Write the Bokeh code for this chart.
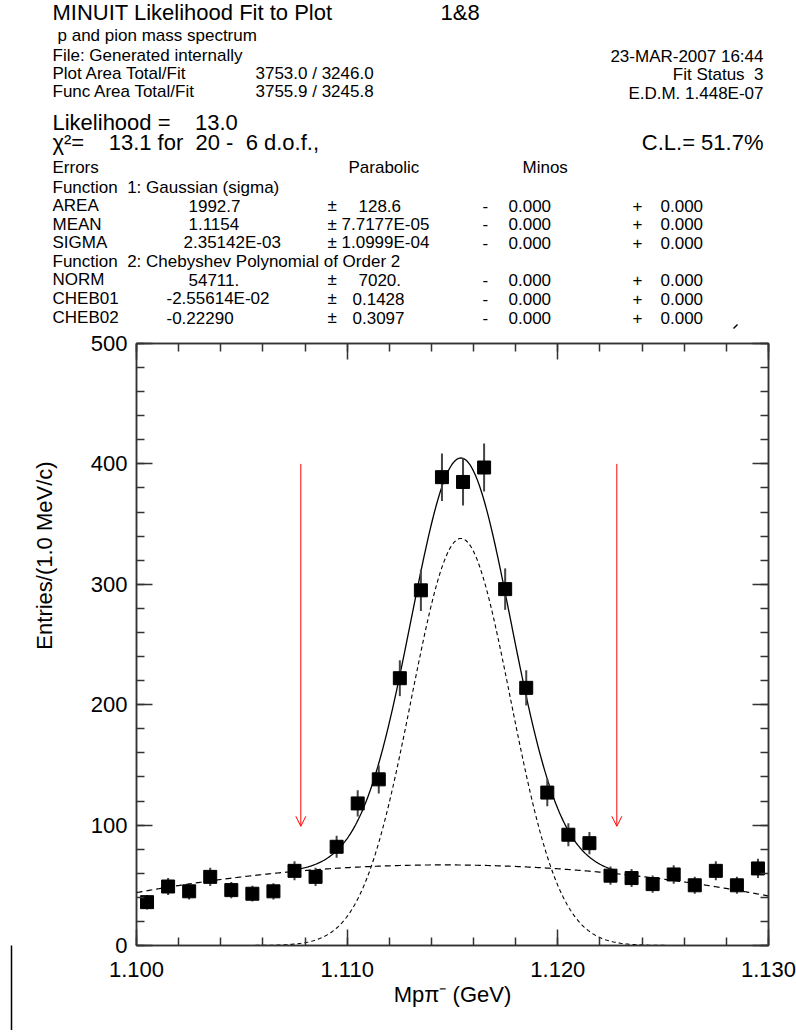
import numpy as np
from bokeh.plotting import figure
from bokeh.layouts import column, row
from bokeh.models import (LinearAxis, FixedTicker, NumeralTickFormatter, Range1d,
                          Arrow, OpenHead, ColumnDataSource, CustomJSTickFormatter)
from bokeh.core.properties import value
from bokeh.embed import file_html
from bokeh.resources import INLINE

# ---------------- data ----------------
mass_gev = [1.1005, 1.1015, 1.1025, 1.1035, 1.1045, 1.1055, 1.1065, 1.1075, 1.1085, 1.1095,
            1.1105, 1.1115, 1.1125, 1.1135, 1.1145, 1.1155, 1.1165, 1.1175, 1.1185, 1.1195,
            1.1205, 1.1215, 1.1225, 1.1235, 1.1245, 1.1255, 1.1265, 1.1275, 1.1285, 1.1295]
entries = [36, 49, 45, 57, 46, 43, 45, 62, 57, 82,
           118, 138, 222, 295, 389, 385, 397, 296, 214, 127,
           92, 85, 58, 56, 51, 59, 50, 62, 50, 64]
bin_width = 0.001
x_limits = [1.100, 1.130]
y_limits = [0, 500]

# fit parameters (as printed on the chart)
gauss_area = 1992.7
gauss_mean = 1.1154
gauss_sigma = 2.35142e-03
cheb_norm = 54711.0
cheb01 = -2.55614e-02
cheb02 = -0.22290
fit_range = [1.1078, 1.1228]
arrow_top = 400
arrow_tip = 99

x_major = [1.100, 1.110, 1.120, 1.130]
y_major = [0, 100, 200, 300, 400, 500]

param_names = ["AREA", "MEAN", "SIGMA", "NORM", "CHEB01", "CHEB02"]
param_values = ["1992.7", "1.1154", "2.35142E-03", "54711.", "-2.55614E-02", "-0.22290"]
param_errors = ["128.6", "7.7177E-05", "1.0999E-04", "7020.", "0.1428", "0.3097"]
minos_minus = ["0.000"] * 6
minos_plus = ["0.000"] * 6

# ---------------- layout constants (page pixels) ----------------
FONT = "Liberation Sans"
PAGE_W, PAGE_H = 796, 1030
HEAD_H = 330
LEFT_W = 60
FRAME_L, FRAME_R, FRAME_T, FRAME_B = 136, 768, 343, 945

def blank_fig(w, h, xr, yr):
    f = figure(width=w, height=h, x_range=Range1d(*xr), y_range=Range1d(*yr),
               output_backend="svg", toolbar_location=None,
               x_axis_type=None, y_axis_type=None,
               min_border_left=0, min_border_right=0, min_border_top=0, min_border_bottom=0)
    f.grid.visible = False
    f.outline_line_color = None
    f.background_fill_color = "white"
    f.border_fill_color = "white"
    f.frame_align = False
    return f

# ---------------- header (page coordinates) ----------------
head = blank_fig(PAGE_W, HEAD_H, (0, PAGE_W), (HEAD_H, 0))
NB = "\u00a0"

def txt(f, items, size, align="left", angle=0.0):
    xs_ = [it[1] for it in items]
    ys_ = [it[2] for it in items]
    ts_ = [it[0] for it in items]
    f.text(x=xs_, y=ys_, text=ts_, text_font=value(FONT), text_font_size=value(f"{size}px"),
           text_align=align, text_baseline="middle", text_color="black", angle=angle)

txt(head, [("MINUIT Likelihood Fit to Plot", 52, 12),
           ("1&8", 440, 12),
           ("Likelihood =" + NB * 4 + "13.0", 52, 121.5),
           ("\u03c7\u00b2=" + NB * 4 + "13.1 for" + NB * 2 + "20 -" + NB * 2 + "6 d.o.f.,", 52, 141.5)], 22)
txt(head, [("C.L.= 51.7%", 763, 141.5)], 22, "right")
txt(head, [("p and pion mass spectrum", 57, 35),
           ("File: Generated internally", 52, 54.5),
           ("Plot Area Total/Fit", 52, 73),
           ("3753.0 / 3246.0", 255, 73),
           ("Func Area Total/Fit", 52, 91),
           ("3755.9 / 3245.8", 255, 91),
           ("Errors", 52, 167),
           ("Parabolic", 348, 167),
           ("Minos", 522, 167),
           ("Function" + NB * 2 + "1: Gaussian (sigma)", 52, 186.5),
           ("Function" + NB * 2 + "2: Chebyshev Polynomial of Order 2", 52, 260.5)], 17)
txt(head, [("23-MAR-2007 16:44", 763, 56),
           ("Fit Status" + NB * 2 + "3", 763, 74),
           ("E.D.M. 1.448E-07", 763, 93)], 17, "right")

row_y = [205, 223.5, 242, 279, 298, 317]
val_x = [188, 188, 183, 188, 166, 166]
err_x = [358, 341, 341, 358, 352, 352]
table = []
for i in range(6):
    y = row_y[i]
    table += [(param_names[i], 52, y), (param_values[i], val_x[i], y), ("\u00b1", 327, y),
              (param_errors[i], err_x[i], y), ("-", 482, y), (minos_minus[i], 508, y),
              ("+", 632, y), (minos_plus[i], 660, y)]
txt(head, table, 17)
# stray tick mark on the original page
head.segment(x0=[733], y0=[328], x1=[737], y1=[324], line_color="black", line_width=1.5)

# ---------------- left strip with y-axis title ----------------
BODY_H = PAGE_H - HEAD_H
left = blank_fig(LEFT_W, BODY_H, (0, LEFT_W), (PAGE_H, HEAD_H))
txt(left, [("Entries/(1.0 MeV/c)", 44, 555)], 22, "center", np.pi / 2)
left.segment(x0=[11], y0=[945], x1=[11], y1=[1030], line_color="black", line_width=1.5)

# ---------------- main plot ----------------
p = figure(width=PAGE_W - LEFT_W, height=BODY_H, x_range=Range1d(*x_limits), y_range=Range1d(*y_limits),
           output_backend="svg", toolbar_location=None,
           min_border_left=FRAME_L - LEFT_W, min_border_right=PAGE_W - FRAME_R,
           min_border_top=FRAME_T - HEAD_H, min_border_bottom=PAGE_H - FRAME_B)
p.frame_align = False
p.grid.visible = False
p.outline_line_color = "#333333"
p.outline_line_width = 1.5
p.background_fill_color = "white"
p.border_fill_color = "white"

xt = FixedTicker(ticks=x_major, minor_ticks=list(np.round(np.arange(1.100, 1.1301, 0.002), 3)))
yt = FixedTicker(ticks=y_major, minor_ticks=list(range(0, 501, 20)))

p.add_layout(LinearAxis(), "above")
p.add_layout(LinearAxis(), "right")

def style_axis(ax, ticker, show_labels):
    ax.ticker = ticker
    ax.axis_line_color = "#333333"
    ax.axis_line_width = 1.5
    ax.major_tick_in = 16
    ax.major_tick_out = 0
    ax.minor_tick_in = 8
    ax.minor_tick_out = 0
    ax.major_tick_line_color = "#333333"
    ax.minor_tick_line_color = "#333333"
    ax.major_tick_line_width = 1.5
    ax.minor_tick_line_width = 1.5
    ax.major_label_text_font = FONT
    ax.major_label_text_font_size = "22px"
    ax.major_label_text_color = "black"
    if not show_labels:
        ax.formatter = CustomJSTickFormatter(code="return ''")
        ax.major_label_standoff = 0
        ax.major_label_text_font_size = "1px"

for ax in p.below:
    style_axis(ax, xt, True)
    ax.formatter = NumeralTickFormatter(format="0.000")
    ax.major_label_standoff = 16
    ax.axis_label = "Mp\u03c0\u207b (GeV)"
    ax.axis_label_text_font = FONT
    ax.axis_label_text_font_size = "22px"
    ax.axis_label_text_font_style = "normal"
    ax.axis_label_text_color = "black"
    ax.axis_label_standoff = 2
for ax in p.left:
    style_axis(ax, yt, True)
    ax.formatter = NumeralTickFormatter(format="0")
    ax.major_label_standoff = 9
for ax in p.above:
    style_axis(ax, xt, False)
for ax in p.right:
    style_axis(ax, yt, False)

# fit curves
xs = np.linspace(x_limits[0], x_limits[1], 601)
t = (2 * xs - (x_limits[0] + x_limits[1])) / (x_limits[1] - x_limits[0])
bkg = cheb_norm * bin_width * (1 + cheb01 * t + cheb02 * (2 * t ** 2 - 1))
gau = gauss_area * bin_width / (np.sqrt(2 * np.pi) * gauss_sigma) * np.exp(-0.5 * ((xs - gauss_mean) / gauss_sigma) ** 2)
tot = gau + bkg
inr = (xs >= fit_range[0] - 0.0004) & (xs <= fit_range[1])

p.line(xs, bkg, line_color="black", line_width=1.2, line_dash="6 4")
p.line(xs, gau, line_color="black", line_width=1.1, line_dash="4 3")
p.line(xs[inr], tot[inr], line_color="black", line_width=1.3)

# data points
cnt = np.array(entries, dtype=float)
err = np.sqrt(cnt)
src = ColumnDataSource(dict(x=mass_gev, y=entries, lo=cnt - err, hi=cnt + err))
p.segment(x0="x", y0="lo", x1="x", y1="hi", source=src, line_color="#444444", line_width=2)
p.scatter(x="x", y="y", source=src, marker="square", size=13, fill_color="black", line_color="black")

# fit range arrows
for xr in fit_range:
    p.add_layout(Arrow(x_start=xr, y_start=arrow_top, x_end=xr, y_end=arrow_tip,
                       line_color="red", line_width=1,
                       end=OpenHead(size=10, line_color="red", line_width=1)))

layout = column(head, row(left, p, spacing=0), spacing=0)
open("out.html", "w").write(file_html(layout, INLINE))
